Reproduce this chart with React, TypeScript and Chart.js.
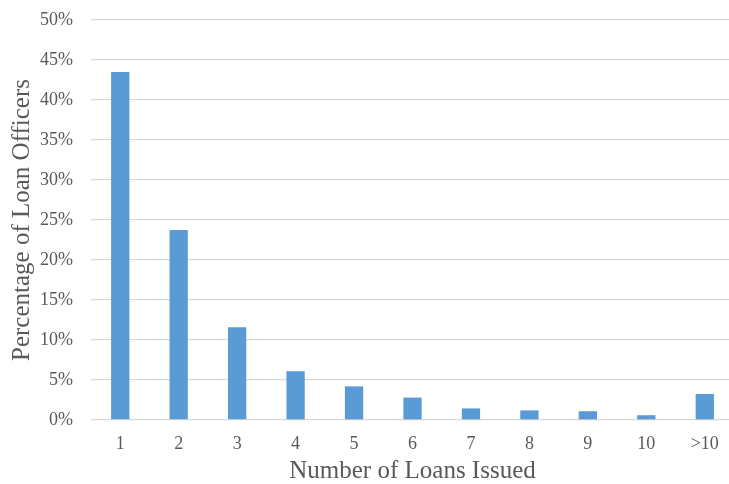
import React, { useEffect, useRef } from "react";
import { Chart, registerables } from "chart.js";

Chart.register(...registerables);

const categories = ["1", "2", "3", "4", "5", "6", "7", "8", "9", "10", ">10"];
const percentages = [43.5, 23.75, 11.6, 6.1, 4.2, 2.8, 1.45, 1.2, 1.1, 0.6, 3.25];
const yMax = 50;
const yStep = 5;
const xTitle = "Number of Loans Issued";
const yTitle = "Percentage of Loan Officers";

const FONT = "'Liberation Serif', 'Times New Roman', serif";
const TEXT = "#595959";

export default function App() {
  const ref = useRef<HTMLCanvasElement | null>(null);
  useEffect(() => {
    if (!ref.current) return;
    const chart = new Chart(ref.current, {
      type: "bar",
      data: {
        labels: categories,
        datasets: [
          {
            data: percentages,
            backgroundColor: "#5B9BD5",
            borderWidth: 0,
            barPercentage: 1,
            categoryPercentage: 0.313,
          },
        ],
      },
      options: {
        responsive: false,
        animation: false,
        layout: { padding: { top: 20, right: 6, bottom: 0, left: 0 } },
        plugins: { legend: { display: false }, tooltip: { enabled: false } },
        scales: {
          x: {
            grid: { display: false },
            border: { display: false },
            ticks: { color: TEXT, font: { family: FONT, size: 18 }, padding: 5, maxRotation: 0 },
            title: {
              display: true,
              text: xTitle,
              color: TEXT,
              font: { family: FONT, size: 25 },
              padding: { top: 0, bottom: -2 },
            },
            afterFit: (s: any) => {
              s.height = 64;
              s.paddingLeft = 0;
              s.paddingRight = 0;
            },
          },
          y: {
            min: 0,
            max: yMax,
            grid: { color: "#D9D9D9", lineWidth: 1.3, drawTicks: false },
            border: { display: false },
            ticks: {
              stepSize: yStep,
              color: TEXT,
              font: { family: FONT, size: 18 },
              padding: 18,
              callback: (v: any) => v + "%",
            },
            title: {
              display: true,
              text: yTitle,
              color: TEXT,
              font: { family: FONT, size: 25 },
              padding: { top: 7, bottom: 0 },
            },
            afterFit: (s: any) => {
              s.width = 91;
              s.paddingTop = 0;
              s.paddingBottom = 0;
            },
          },
        },
      },
    });
    return () => chart.destroy();
  }, []);
  return (
    <div style={{ position: "fixed", left: 0, top: 0, width: 740, height: 484, background: "#fff" }}>
      <canvas ref={ref} width={740} height={484} />
    </div>
  );
}
